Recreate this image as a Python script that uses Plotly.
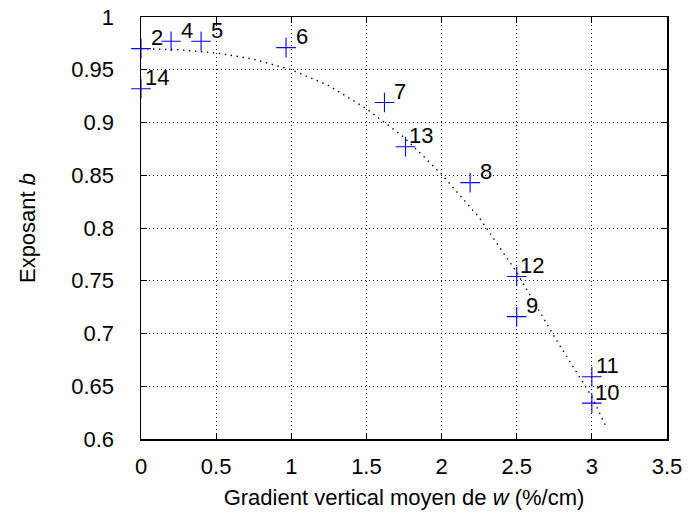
import plotly.graph_objects as go

# Measured points
labels = ["2", "4", "5", "6", "14", "7", "13", "8", "12", "9", "11", "10"]
gradient = [0.0, 0.2, 0.4, 0.965, 0.0, 1.62, 1.76, 2.19, 2.5, 2.5, 3.0, 3.0]
exposant = [0.970, 0.977, 0.977, 0.971, 0.932, 0.919, 0.877, 0.843, 0.754, 0.716, 0.659, 0.634]

# Fitted curve
fit_x = [0.0, 0.25, 0.5, 0.75, 1.0, 1.25, 1.5, 1.75, 2.0, 2.25, 2.5, 2.75, 3.0, 3.1]
fit_y = [0.970, 0.969, 0.966, 0.960, 0.950, 0.935, 0.913, 0.886, 0.851, 0.810, 0.758, 0.697, 0.640, 0.610]

x_ticks = [0, 0.5, 1, 1.5, 2, 2.5, 3, 3.5]
y_ticks = [0.6, 0.65, 0.7, 0.75, 0.8, 0.85, 0.9, 0.95, 1]

FONT = "Liberation Sans, Arial, Helvetica, sans-serif"

fig = go.Figure()
fig.add_trace(go.Scatter(
    x=fit_x, y=fit_y, mode="lines",
    line=dict(color="black", width=1.4, dash="1.4px,4.6px"),
    hoverinfo="skip", showlegend=False,
))
fig.add_trace(go.Scatter(
    x=gradient, y=exposant, mode="markers", cliponaxis=False,
    marker=dict(symbol="cross-thin", size=14, line=dict(color="rgb(0,0,255)", width=1.1)),
    showlegend=False,
))

for lab, xv, yv in zip(labels, gradient, exposant):
    fig.add_annotation(
        x=xv, y=yv, text=lab, showarrow=False,
        xanchor="center", yanchor="middle", xshift=15.5, yshift=11,
        font=dict(family=FONT, size=22, color="black"),
    )

axis_common = dict(
    showline=True, linecolor="black", linewidth=1.5, mirror="allticks",
    ticks="inside", ticklen=6, tickcolor="black", tickwidth=1,
    showgrid=True, gridcolor="black", gridwidth=1, griddash="1px,3px",
    zeroline=False, automargin=False,
    tickfont=dict(family=FONT, size=22, color="black"),
)

fig.update_xaxes(
    range=[0, 3.5], tickvals=x_ticks, ticktext=[f"{v:g}" for v in x_ticks],
    title=dict(text="Gradient vertical moyen de <i>w</i> (%/cm)",
               font=dict(family=FONT, size=22, color="black"), standoff=11),
    ticklabelstandoff=7,
    **axis_common,
)
fig.update_yaxes(
    range=[0.6, 1.0], tickvals=y_ticks, ticktext=[f"{v:g}" for v in y_ticks],
    title=dict(text="Exposant <i>b</i>",
               font=dict(family=FONT, size=22, color="black"), standoff=29),
    ticklabelstandoff=21,
    **axis_common,
)

fig.update_layout(
    width=689, height=518,
    margin=dict(l=141, r=22, t=17, b=79),
    paper_bgcolor="white", plot_bgcolor="white",
    font=dict(family=FONT, size=22, color="black"),
)

fig.write_html(
    "out.html",
    config={"displayModeBar": False, "staticPlot": True},
    post_script="document.body.style.margin='0';document.body.style.padding='0';"
                "document.documentElement.style.overflow='hidden';",
)
